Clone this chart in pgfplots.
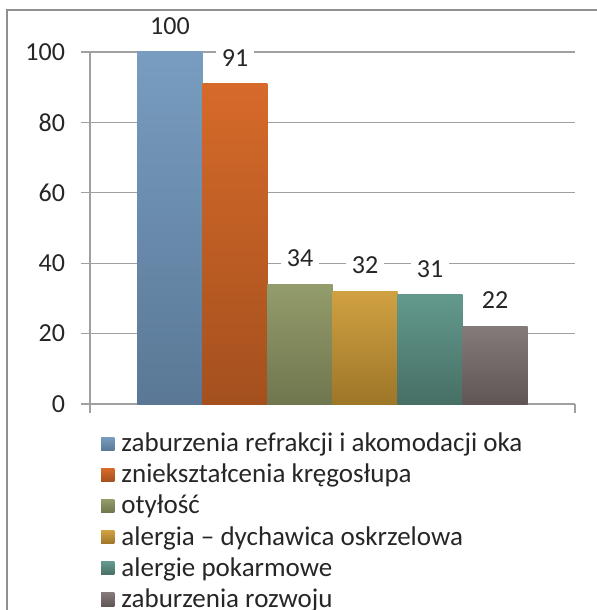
\documentclass[border=0pt]{standalone}
\usepackage{fontspec}
\setmainfont{Carlito}
\usepackage{pgfplots}
\pgfplotsset{compat=1.18}
\definecolor{bluet}{HTML}{789DC0}
\definecolor{blueb}{HTML}{5A7896}
\definecolor{oranget}{HTML}{D66A2A}
\definecolor{orangeb}{HTML}{A4501E}
\definecolor{olivet}{HTML}{939C6B}
\definecolor{oliveb}{HTML}{70764E}
\definecolor{goldt}{HTML}{D0A142}
\definecolor{goldb}{HTML}{9E7628}
\definecolor{tealt}{HTML}{63998D}
\definecolor{tealb}{HTML}{476F65}
\definecolor{mauvet}{HTML}{847A7A}
\definecolor{mauveb}{HTML}{605656}
\definecolor{gridc}{HTML}{A0A0A0}
\begin{document}
\begin{tikzpicture}
\useasboundingbox (-45pt,-103pt) rectangle (253pt,202pt);
\draw[color=gridc!90!black, line width=1.2pt] (-41.5pt,-110pt) -- (-41.5pt,197pt) -- (260pt,197pt);
\begin{axis}[
  at={(0pt,0pt)}, anchor=south west,
  scale only axis,
  width=242.5pt, height=176pt,
  xmin=-1, xmax=1, ymin=0, ymax=100,
  ybar=0pt, bar width=32.5pt,
  axis x line*=bottom, axis y line*=left,
  axis line style={gridc, line width=0.6pt, -},
  xtick={-1,1}, xticklabels={},
  ytick={0,20,40,60,80,100},
  ymajorgrids, grid style={gridc, line width=0.6pt},
  tick align=outside, major tick length=4.5pt,
  tick style={gridc, line width=0.6pt},
  /pgf/number format/assume math mode=true,
  ticklabel style={font=\fontsize{13}{15}\selectfont, text=black!85},
  yticklabel style={xshift=-4.5pt},
  clip=false,
  nodes near coords,
  every node near coord/.append style={font=\fontsize{13}{15}\selectfont, text=black!85, fill=white, inner sep=3pt, anchor=center, yshift=13pt},
  legend cell align=left,
  legend style={draw=none, fill=none, at={(0.01,-0.058)}, anchor=north west,
    font=\fontsize{13.5}{16}\selectfont, text=black!85, row sep=0.7pt,
    /tikz/every even column/.append style={column sep=2pt}},
  /tikz/every odd column/.append style={column sep=1.5pt},
  legend image code/.code={\path[#1, draw=none] (0pt,-3.3pt) rectangle (6.6pt,3.3pt);},
]
\addplot[draw=none, top color=bluet, bottom color=blueb] coordinates {(0,100)};
\addplot[draw=none, top color=oranget, bottom color=orangeb] coordinates {(0,91)};
\addplot[draw=none, top color=olivet, bottom color=oliveb] coordinates {(0,34)};
\addplot[draw=none, top color=goldt, bottom color=goldb] coordinates {(0,32)};
\addplot[draw=none, top color=tealt, bottom color=tealb] coordinates {(0,31)};
\addplot[draw=none, top color=mauvet, bottom color=mauveb] coordinates {(0,22)};
\legend{zaburzenia refrakcji i akomodacji oka, zniekształcenia kręgosłupa, otyłość, alergia – dychawica oskrzelowa, alergie pokarmowe, zaburzenia rozwoju}
\end{axis}
\end{tikzpicture}
\end{document}
